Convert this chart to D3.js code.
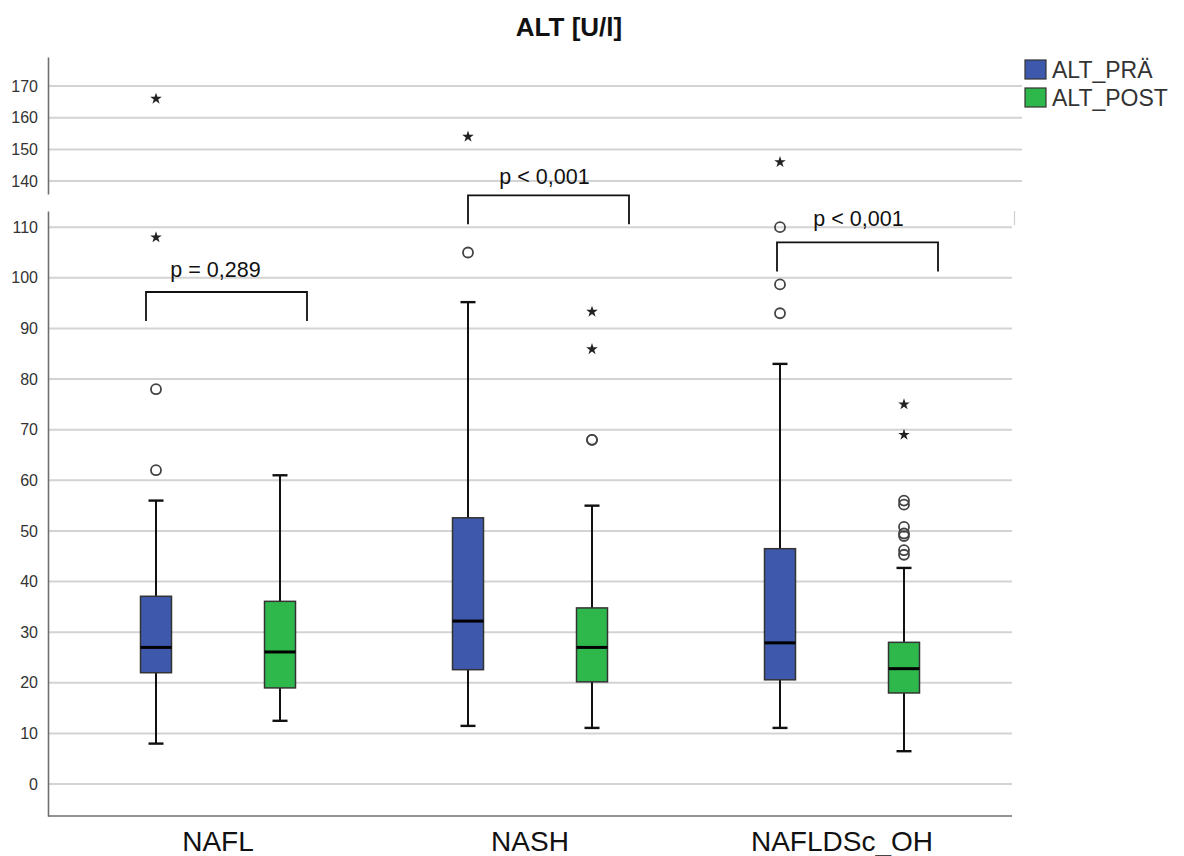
<!DOCTYPE html>
<html>
<head>
<meta charset="utf-8">
<script src="https://cdn.jsdelivr.net/npm/d3@7"></script>
<style>
  html, body { margin: 0; padding: 0; background: #fff; }
  svg { display: block; font-family: "Liberation Sans", Arial, sans-serif; }
</style>
</head>
<body>
<svg id="chart" width="1184" height="856"></svg>
<script>
// ---- data -------------------------------------------------------------
const categories = ["NAFL", "NASH", "NAFLDSc_OH"];
const series = ["ALT_PRÄ", "ALT_POST"];

// box statistics per series, one value per category
const whiskerLow  = { "ALT_PRÄ": [8.0, 11.5, 11.1],  "ALT_POST": [12.5, 11.1, 6.5] };
const quartile1   = { "ALT_PRÄ": [22.0, 22.6, 20.6], "ALT_POST": [19.0, 20.2, 18.0] };
const medians     = { "ALT_PRÄ": [27.0, 32.2, 27.9], "ALT_POST": [26.1, 27.0, 22.8] };
const quartile3   = { "ALT_PRÄ": [37.1, 52.6, 46.5], "ALT_POST": [36.1, 34.8, 28.0] };
const whiskerHigh = { "ALT_PRÄ": [56.0, 95.2, 83.0], "ALT_POST": [61.0, 55.0, 42.7] };

// outliers (circles) and extreme values (stars)
const outliers = {
  "ALT_PRÄ":  [[62, 78], [105], [110, 98.7, 93]],
  "ALT_POST": [[], [68, 68], [56, 55.2, 50.8, 49.5, 49.0, 46.2, 45.3]]
};
const extremes = {
  "ALT_PRÄ":  [[108, 166], [154], [146]],
  "ALT_POST": [[], [93.3, 85.9], [75, 69]]
};

// axis ticks of the two panels of the broken axis
const upperTicks = [140, 150, 160, 170];
const lowerTicks = [0, 10, 20, 30, 40, 50, 60, 70, 80, 90, 100, 110];

// significance annotations (bracket top level in U/l on the lower scale)
const pLabels = ["p = 0,289", "p < 0,001", "p < 0,001"];
const bracketLevel = [97.2, 116.3, 107.0];

const colors = { "ALT_PRÄ": "#3e58ac", "ALT_POST": "#2eb84c" };

// ---- layout -----------------------------------------------------------
const svg = d3.select("#chart");
const axisX = 48;

const x0 = d3.scaleBand().domain(categories).range([62, 998]);
const x1 = d3.scalePoint().domain(series).range([-62, 62]);
const cx = (cat, s) => x0(cat) + x0.bandwidth() / 2 + x1(s);

const yTop = d3.scaleLinear().domain([135.9, 179.2]).range([194, 57]);
const yLow = d3.scaleLinear().domain([-6.3, 113.2]).range([816, 211]);
const breakValue = 120;
const yAny = v => (v > breakValue ? yTop(v) : yLow(v));

// ---- title ------------------------------------------------------------
svg.append("text")
  .attr("x", 569).attr("y", 36)
  .attr("text-anchor", "middle")
  .attr("font-weight", "bold")
  .attr("font-size", 26)
  .attr("fill", "#111")
  .text("ALT [U/l]");

// ---- grid lines -------------------------------------------------------
const grid = svg.append("g").attr("stroke", "#d3d3d3").attr("stroke-width", 2);
grid.selectAll("line.up").data(upperTicks).join("line")
  .attr("x1", axisX).attr("x2", 1022)
  .attr("y1", d => yTop(d)).attr("y2", d => yTop(d));
grid.selectAll("line.lo").data(lowerTicks).join("line")
  .attr("x1", axisX).attr("x2", 1012)
  .attr("y1", d => yLow(d)).attr("y2", d => yLow(d));

// ---- axes -------------------------------------------------------------
function drawAxis(scale, ticks) {
  const g = svg.append("g").attr("transform", `translate(${axisX},0)`)
    .call(d3.axisLeft(scale).tickValues(ticks).tickSize(0).tickPadding(10));
  g.select(".domain").attr("stroke", "#6f6f6f").attr("stroke-width", 1.6);
  g.selectAll("text")
    .attr("font-size", 16)
    .attr("fill", "#333")
    .attr("font-family", "Liberation Sans, Arial, sans-serif");
  return g;
}
drawAxis(yTop, upperTicks);
drawAxis(yLow, lowerTicks);

// bottom axis line
svg.append("line")
  .attr("x1", axisX).attr("x2", 1012)
  .attr("y1", yLow.range()[0]).attr("y2", yLow.range()[0])
  .attr("stroke", "#6f6f6f").attr("stroke-width", 1.6);
// right edge stub of the lower panel
svg.append("line")
  .attr("x1", 1014.5).attr("x2", 1014.5)
  .attr("y1", yLow.range()[1]).attr("y2", yLow.range()[1] + 14)
  .attr("stroke", "#cfcfcf").attr("stroke-width", 1.2);

// category labels
svg.append("g").selectAll("text").data(categories).join("text")
  .attr("x", d => x0(d) + x0.bandwidth() / 2)
  .attr("y", 851)
  .attr("text-anchor", "middle")
  .attr("font-size", 28)
  .attr("fill", "#111")
  .text(d => d);

// ---- boxes ------------------------------------------------------------
const boxW = 31, capW = 15;
const rows = [];
series.forEach(s => categories.forEach((c, i) => rows.push({
  s, c, i,
  lo: whiskerLow[s][i], q1: quartile1[s][i], med: medians[s][i],
  q3: quartile3[s][i], hi: whiskerHigh[s][i]
})));

const boxes = svg.append("g").selectAll("g").data(rows).join("g");

boxes.append("line")   // lower whisker
  .attr("x1", d => cx(d.c, d.s)).attr("x2", d => cx(d.c, d.s))
  .attr("y1", d => yLow(d.lo)).attr("y2", d => yLow(d.q1))
  .attr("stroke", "#111").attr("stroke-width", 2);
boxes.append("line")   // upper whisker
  .attr("x1", d => cx(d.c, d.s)).attr("x2", d => cx(d.c, d.s))
  .attr("y1", d => yLow(d.q3)).attr("y2", d => yLow(d.hi))
  .attr("stroke", "#111").attr("stroke-width", 2);
["lo", "hi"].forEach(k => boxes.append("line")
  .attr("x1", d => cx(d.c, d.s) - capW / 2).attr("x2", d => cx(d.c, d.s) + capW / 2)
  .attr("y1", d => yLow(d[k])).attr("y2", d => yLow(d[k]))
  .attr("stroke", "#111").attr("stroke-width", 2.4));
boxes.append("rect")
  .attr("x", d => cx(d.c, d.s) - boxW / 2)
  .attr("width", boxW)
  .attr("y", d => yLow(d.q3))
  .attr("height", d => yLow(d.q1) - yLow(d.q3))
  .attr("fill", d => colors[d.s])
  .attr("stroke", "#333").attr("stroke-width", 1.5);
boxes.append("line")   // median
  .attr("x1", d => cx(d.c, d.s) - boxW / 2).attr("x2", d => cx(d.c, d.s) + boxW / 2)
  .attr("y1", d => yLow(d.med)).attr("y2", d => yLow(d.med))
  .attr("stroke", "#000").attr("stroke-width", 3);

// ---- outliers and extremes -------------------------------------------
const circlePts = [], starPts = [];
series.forEach(s => categories.forEach((c, i) => {
  outliers[s][i].forEach(v => circlePts.push({ s, c, v }));
  extremes[s][i].forEach(v => starPts.push({ s, c, v }));
}));

svg.append("g").selectAll("circle").data(circlePts).join("circle")
  .attr("cx", d => cx(d.c, d.s))
  .attr("cy", d => yAny(d.v))
  .attr("r", 5)
  .attr("fill", "none")
  .attr("stroke", "#444").attr("stroke-width", 1.8);

const star = d3.symbol().type(d3.symbolStar).size(42);
svg.append("g").selectAll("path").data(starPts).join("path")
  .attr("transform", d => `translate(${cx(d.c, d.s)},${yAny(d.v)})`)
  .attr("d", star)
  .attr("fill", "#222");

// ---- significance brackets -------------------------------------------
const bracketShift = [-10, 0, -3];
const bracketW = 161, bracketDepth = 29;
const textShift = [-11, -4, 1];
const textLift = [15, 11, 16];
const ann = svg.append("g");
categories.forEach((c, i) => {
  const xl = cx(c, series[0]) + bracketShift[i];
  const xr = xl + bracketW;
  const yt = yLow(bracketLevel[i]);
  ann.append("path")
    .attr("d", `M${xl},${yt + bracketDepth}V${yt}H${xr}V${yt + bracketDepth}`)
    .attr("fill", "none").attr("stroke", "#111").attr("stroke-width", 1.8);
  ann.append("text")
    .attr("x", (xl + xr) / 2 + textShift[i])
    .attr("y", yt - textLift[i])
    .attr("text-anchor", "middle")
    .attr("font-size", 21.5)
    .attr("fill", "#111")
    .text(pLabels[i]);
});

// ---- legend -----------------------------------------------------------
const legend = svg.append("g").selectAll("g").data(series).join("g")
  .attr("transform", (d, i) => `translate(1025,${60 + i * 28})`);
legend.append("rect")
  .attr("width", 21).attr("height", 19)
  .attr("fill", d => colors[d])
  .attr("stroke", "#333").attr("stroke-width", 1.2);
legend.append("text")
  .attr("x", 27).attr("y", 18)
  .attr("font-size", 23)
  .attr("fill", "#333")
  .text(d => d);
</script>
</body>
</html>
